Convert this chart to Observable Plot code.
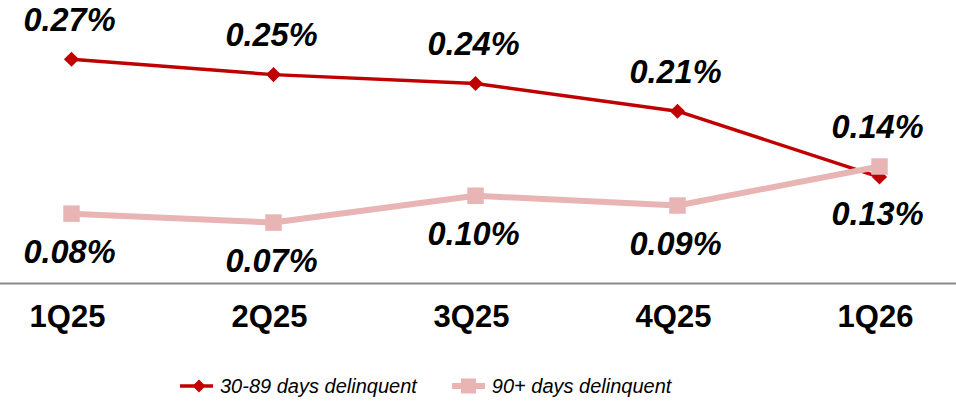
<!DOCTYPE html>
<html>
<head>
<meta charset="utf-8">
<script src="https://cdn.jsdelivr.net/npm/d3@7"></script>
<script src="https://cdn.jsdelivr.net/npm/@observablehq/plot@0.6"></script>
<style>
  html, body { margin: 0; padding: 0; background: #fff; }
  body { width: 956px; height: 403px; overflow: hidden; font-family: "Liberation Sans", Arial, sans-serif; }
  #legend { display: flex; align-items: center; margin-left: 180px; height: 40px; margin-top: 21px; font-style: italic; font-size: 20px; color: #000; }
  .item { display: flex; align-items: center; }
  .item svg { margin-right: 7px; }
</style>
</head>
<body>
<div id="chart"></div>
<div id="legend"></div>
<script>
const quarters = ["1Q25", "2Q25", "3Q25", "4Q25", "1Q26"];
const delinquent3089 = [0.271, 0.252, 0.241, 0.207, 0.126];
const delinquent90 = [0.081, 0.070, 0.103, 0.091, 0.139];
const seriesNames = ["30-89 days delinquent", "90+ days delinquent"];
const colors = ["#C00000", "#E8B4B4"];

const red = quarters.map((q, i) => ({q, v: delinquent3089[i], above: delinquent3089[i] >= delinquent90[i]}));
const pink = quarters.map((q, i) => ({q, v: delinquent90[i], above: delinquent90[i] > delinquent3089[i]}));
const fmt = d => d.v.toFixed(2) + "%";
const labelStyle = {fontSize: 32.5, fontWeight: "bold", fontStyle: "italic", fill: "#000", text: fmt, dx: -2};

const H = 345;
const chart = Plot.plot({
  width: 956,
  height: H,
  marginLeft: 0,
  marginRight: 0,
  marginTop: 0,
  marginBottom: H - 283,
  style: {fontFamily: "'Liberation Sans', Arial, sans-serif", background: "#fff"},
  x: {type: "point", domain: quarters, range: [70, 879], padding: 0, label: null},
  y: {domain: [0, 0.3], range: [279, 35.1], axis: null},
  marks: [
    Plot.frame({anchor: "bottom", stroke: "#8a8a8a", strokeWidth: 1.8}),
    Plot.axisX({tickSize: 0, tickPadding: 21, fontSize: 31, fontWeight: "bold", fill: "#000", label: null, dx: -4}),
    Plot.line(red, {x: "q", y: "v", stroke: colors[0], strokeWidth: 3.5}),
    Plot.dot(red, {x: "q", y: "v", symbol: "diamond2", r: 6.8, fill: colors[0], stroke: "none"}),
    Plot.line(pink, {x: "q", y: "v", stroke: colors[1], strokeWidth: 6}),
    Plot.dot(pink, {x: "q", y: "v", symbol: "square", r: 9.3, fill: colors[1], stroke: "none"}),
    Plot.text(red.filter(d => d.above), {x: "q", y: "v", dy: -39, ...labelStyle}),
    Plot.text(red.filter(d => !d.above), {x: "q", y: "v", dy: 38, ...labelStyle}),
    Plot.text(pink.filter(d => d.above), {x: "q", y: "v", dy: -39, ...labelStyle}),
    Plot.text(pink.filter(d => !d.above), {x: "q", y: "v", dy: 39, ...labelStyle})
  ]
});
document.getElementById("chart").appendChild(chart);

const legend = document.getElementById("legend");
const markers = [
  `<svg width="33" height="16"><line x1="0" y1="8" x2="33" y2="8" stroke="${colors[0]}" stroke-width="3.5"/><path d="M19,1.5 L25.5,8 L19,14.5 L12.5,8 Z" fill="${colors[0]}"/></svg>`,
  `<svg width="33" height="16"><line x1="0" y1="8" x2="33" y2="8" stroke="${colors[1]}" stroke-width="6"/><rect x="9" y="0.5" width="15" height="15" fill="${colors[1]}"/></svg>`
];
seriesNames.forEach((name, i) => {
  const item = document.createElement("div");
  item.className = "item";
  if (i > 0) item.style.marginLeft = "35px";
  item.innerHTML = markers[i] + `<span>${name}</span>`;
  legend.appendChild(item);
});
</script>
</body>
</html>
